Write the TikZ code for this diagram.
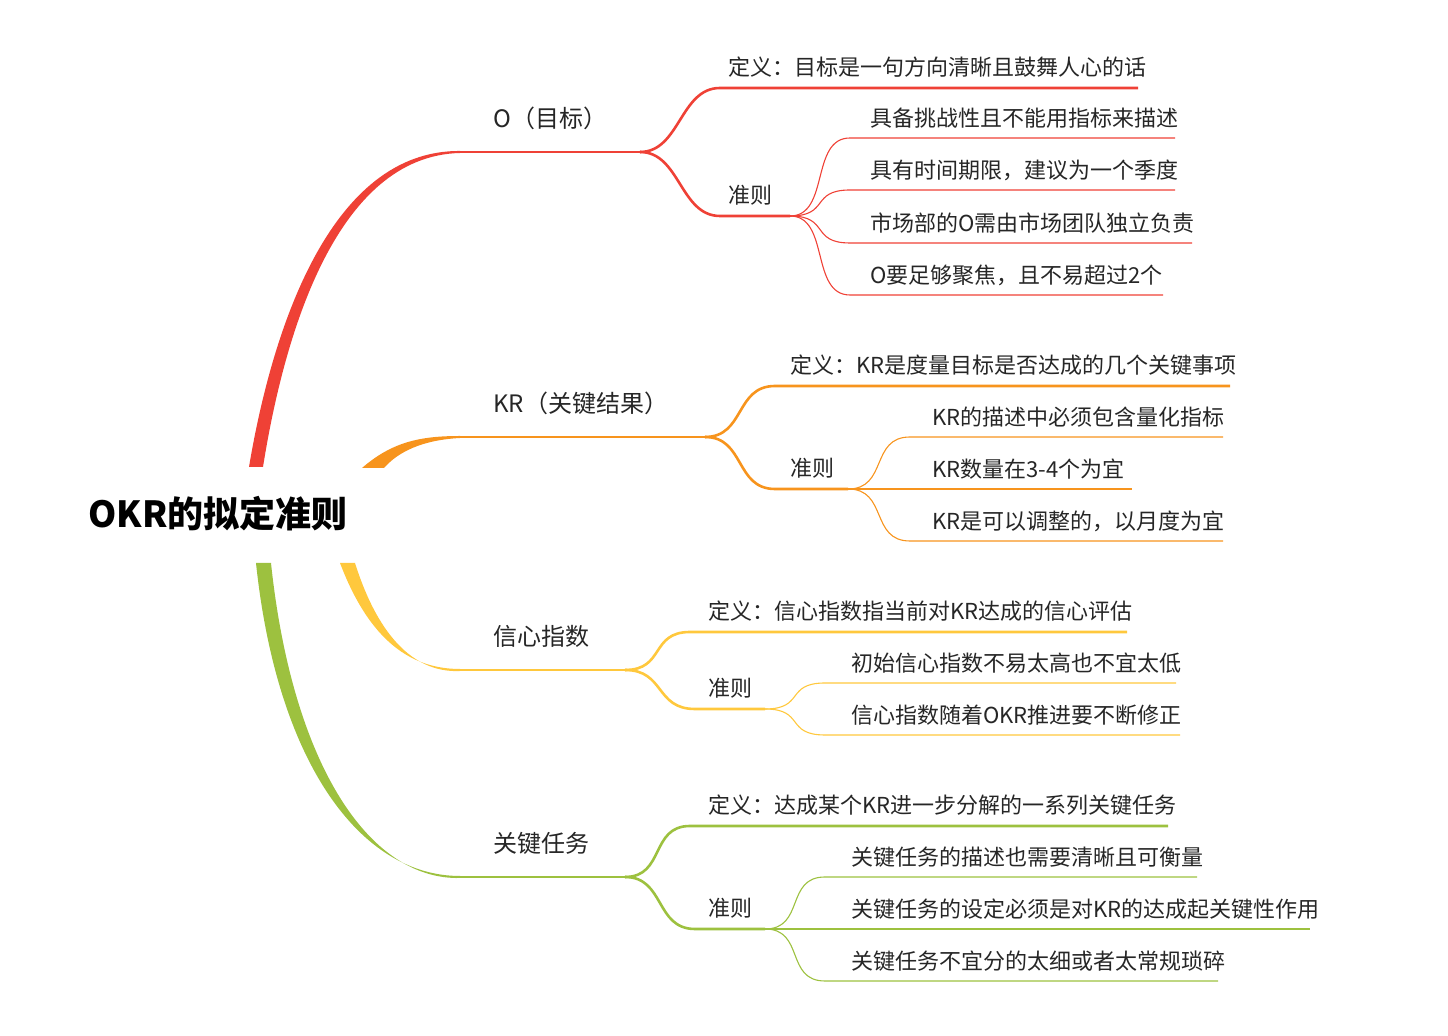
\documentclass[tikz,border=0pt]{standalone}
\usepackage{fontspec}
\setmainfont{Noto Sans CJK SC}
\definecolor{cR}{HTML}{EF4136}
\definecolor{cO}{HTML}{F7941D}
\definecolor{cY}{HTML}{FFC83D}
\definecolor{cG}{HTML}{9DC13F}
\begin{document}
\begin{tikzpicture}[x=0.5pt,y=-0.5pt,
  br/.style={font=\fontsize{12}{14}\selectfont,anchor=base west,inner sep=0pt,text=black!85},
  lf/.style={font=\fontsize{11}{13}\selectfont,anchor=base west,inner sep=0pt,text=black!85},
  thick1/.style={line width=1.3pt},
  thin1/.style={line width=0.55pt},
  cv/.style={to path={.. controls ([xshift=20pt]\tikztostart) and ([xshift=-20pt]\tikztotarget) .. (\tikztotarget)}}]
\useasboundingbox (0,0) rectangle (1448,1036);
\node[font=\fontsize{18}{20}\selectfont\bfseries,inner sep=0pt,anchor=base west] (root) at (88,528) {OKR的拟定准则};
% main branches (tapered)
\fill[cR] (249,467) .. controls (272,330) and (330,150) .. (460,151) -- (460,153) .. controls (336,156) and (284,335) .. (263,467) -- cycle;
\fill[cO] (362,468) .. controls (392,442) and (420,436) .. (460,436) -- (460,438) .. controls (422,440) and (398,452) .. (384,468) -- cycle;
\fill[cY] (340,563) .. controls (370,642) and (412,669) .. (460,669) -- (460,671) .. controls (418,673) and (380,642) .. (355,563) -- cycle;
\fill[cG] (256,563) .. controls (277,762) and (360,876) .. (460,876) -- (460,878) .. controls (368,880) and (292,762) .. (271,563) -- cycle;
% ===== O
\coordinate (o0) at (460,152); \coordinate (o1) at (640,152);
\draw[cR,thick1] (o0) -- (o1);
\node[br] (ot) at (493,128) {O（目标）};
\coordinate (od0) at (720,88); \coordinate (od1) at (1138,88);
\draw[cR,thick1] (o1) to[cv] (od0) -- (od1);
\node[lf] (odt) at (728,76) {定义：目标是一句方向清晰且鼓舞人心的话};
\coordinate (oz0) at (720,216); \coordinate (oz1) at (790,216);
\draw[cR,thick1] (o1) to[cv] (oz0) -- (oz1);
\node[lf] (ozt) at (728,204) {准则};
\foreach \y/\e/\t [count=\i] in {138/1175/具备挑战性且不能用指标来描述,190/1175/具有时间期限，建议为一个季度,243/1192/市场部的O需由市场团队独立负责,295/1163/O要足够聚焦，且不易超过2个}{
  \coordinate (ol\i) at (850,\y);
  \draw[cR,thin1] (oz1) to[cv] (ol\i) -- (\e,\y);
  \node[lf] (olt\i) at (870,\y-11) {\t};
}
% ===== KR
\coordinate (k0) at (460,437); \coordinate (k1) at (705,437);
\draw[cO,thick1] (k0) -- (k1);
\node[br] (kt) at (493,413) {KR（关键结果）};
\coordinate (kd0) at (775,386);
\draw[cO,thick1] (k1) to[cv] (kd0) -- (1230,386);
\node[lf] (kdt) at (790,374) {定义：KR是度量目标是否达成的几个关键事项};
\coordinate (kz0) at (775,489); \coordinate (kz1) at (848,489);
\draw[cO,thick1] (k1) to[cv] (kz0) -- (kz1);
\node[lf] (kzt) at (790,477) {准则};
\foreach \y/\e/\t [count=\i] in {437/1223/KR的描述中必须包含量化指标,489/1132/KR数量在3-4个为宜,541/1223/KR是可以调整的，以月度为宜}{
  \coordinate (kl\i) at (910,\y);
  \draw[cO,thin1] (kz1) to[cv] (kl\i) -- (\e,\y);
  \node[lf] (klt\i) at (932,\y-11) {\t};
}
% ===== 信心指数
\coordinate (x0) at (460,670); \coordinate (x1) at (625,670);
\draw[cY,thick1] (x0) -- (x1);
\node[br] (xt) at (493,646) {信心指数};
\coordinate (xd0) at (690,632);
\draw[cY,thick1] (x1) to[cv] (xd0) -- (1127,632);
\node[lf] (xdt) at (708,620) {定义：信心指数指当前对KR达成的信心评估};
\coordinate (xz0) at (695,709); \coordinate (xz1) at (765,709);
\draw[cY,thick1] (x1) to[cv] (xz0) -- (xz1);
\node[lf] (xzt) at (708,697) {准则};
\foreach \y/\e/\t [count=\i] in {683/1176/初始信心指数不易太高也不宜太低,735/1180/信心指数随着OKR推进要不断修正}{
  \coordinate (xl\i) at (825,\y);
  \draw[cY,thin1] (xz1) to[cv] (xl\i) -- (\e,\y);
  \node[lf] (xlt\i) at (851,\y-11) {\t};
}
% ===== 关键任务
\coordinate (g0) at (460,877); \coordinate (g1) at (625,877);
\draw[cG,thick1] (g0) -- (g1);
\node[br] (gt) at (493,853) {关键任务};
\coordinate (gd0) at (690,826);
\draw[cG,thick1] (g1) to[cv] (gd0) -- (1168,826);
\node[lf] (gdt) at (708,814) {定义：达成某个KR进一步分解的一系列关键任务};
\coordinate (gz0) at (695,929); \coordinate (gz1) at (765,929);
\draw[cG,thick1] (g1) to[cv] (gz0) -- (gz1);
\node[lf] (gzt) at (708,917) {准则};
\foreach \y/\e/\t [count=\i] in {877/1197/关键任务的描述也需要清晰且可衡量,929/1310/关键任务的设定必须是对KR的达成起关键性作用,981/1218/关键任务不宜分的太细或者太常规琐碎}{
  \coordinate (gl\i) at (825,\y);
  \draw[cG,thin1] (gz1) to[cv] (gl\i) -- (\e,\y);
  \node[lf] (glt\i) at (851,\y-11) {\t};
}
\end{tikzpicture}
\end{document}
